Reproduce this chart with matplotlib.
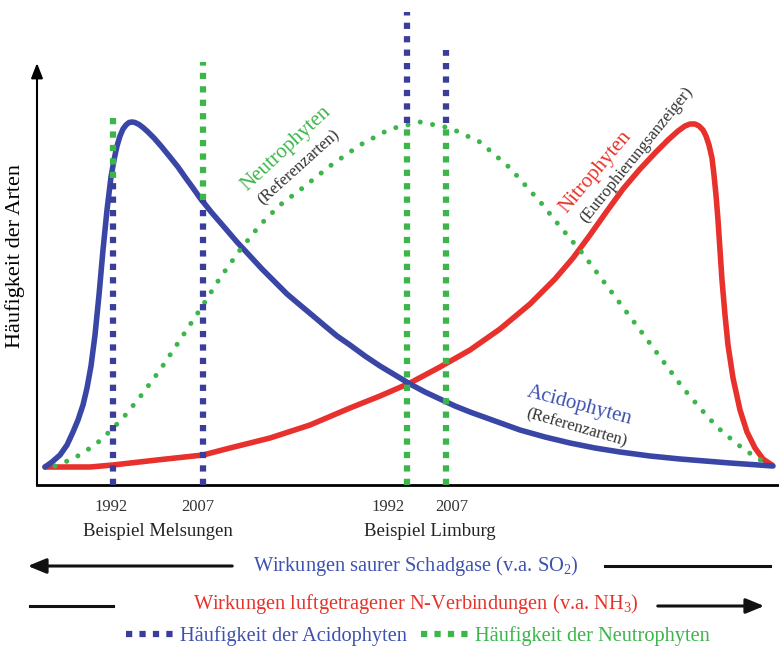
import matplotlib
matplotlib.use('Agg')
import matplotlib.pyplot as plt
from matplotlib.lines import Line2D
from matplotlib.patches import FancyArrowPatch

plt.rcParams['font.family'] = ['Liberation Serif', 'DejaVu Serif']
plt.rcParams['mathtext.fontset'] = 'custom'
plt.rcParams['mathtext.rm'] = 'Liberation Serif'
plt.rcParams['mathtext.it'] = 'Liberation Serif:italic'

BLUE = '#3a46a6'
RED = '#e8302c'
GREEN = '#3cb54a'
SQ_BLUE = '#3b3d9a'
TXT_BLUE = '#3d52ae'
TXT_RED = '#e6332a'
GREY = '#333333'

# gradient position (acid -> nitrogen) and species frequency
acido_x = [8, 15, 23, 30, 36, 41, 46, 50, 54, 58, 62, 66, 70, 74, 77, 80, 83, 86, 89, 92, 95,
           98, 102, 106, 111, 117, 124, 133, 141, 148, 156, 163, 175, 188, 200, 213, 225,
           238, 250, 263, 275, 288, 300, 313, 328, 343, 358, 373, 388, 403, 418, 433, 458,
           483, 508, 533, 558, 583, 613, 643, 668, 693, 736]
acido_y = [18, 23, 30, 40, 53, 65, 80, 97, 119, 150, 190, 235, 275, 308, 325, 339, 349, 356,
           360, 362.5, 363, 362.5, 360.5, 357.5, 353, 347, 339, 328, 318, 308, 297, 287, 272,
           257, 243, 229, 216, 203, 191, 180, 170, 159, 149, 140, 129, 119, 110, 101, 93, 86,
           79, 73, 64, 55, 48, 42, 37, 33, 29, 26, 24, 22, 19]

nitro_x = [8, 53, 76, 120, 166, 193, 233, 273, 313, 343, 373, 403, 433, 463, 493, 518, 536,
           553, 570, 586, 603, 619, 631, 641, 648, 653, 658, 662, 666, 669, 672, 675, 677,
           679, 681, 683, 685, 688, 691, 696, 703, 710, 718, 726, 735]
nitro_y = [18, 18, 20, 25, 30, 37, 47, 60, 77, 89, 102, 118, 135, 156, 181, 206, 227, 250,
           274, 296, 316, 333, 345, 354, 359, 361, 361, 359, 355, 349, 340, 327, 310, 290,
           265, 235, 205, 170, 140, 107, 75, 53, 37, 26, 20]

neutro_x = [18, 25, 36, 47, 58, 68, 86, 103, 123, 143, 166, 183, 203, 223, 243, 263, 293,
            323, 353, 383, 413, 443, 473, 505, 521, 546, 573, 603, 623, 646, 663, 680, 700,
            721, 731]
neutro_y = [19, 22, 26, 33, 40, 49, 67, 88, 115, 145, 180, 207, 235, 260, 280, 295, 319, 340,
            356, 363, 357, 343, 317, 281, 261, 231, 195, 155, 128, 97, 77, 58, 41, 26, 22]

# survey columns: Melsungen 1992/2007, Limburg 1992/2007
survey_x = [76, 166, 370, 409]
survey_years = ['1992', '2007', '1992', '2007']
acido_lo = [0, 0, 362, 362]
acido_hi = [307, 285, 473, 435]
neutro_lo = [307, 285, 0, 0]
neutro_hi = [372, 423, 362, 362]

W, H = 779, 650
fig = plt.figure(figsize=(W / 100, H / 100), dpi=100, facecolor='white')
ax = fig.add_axes([37 / W, 1 - 485 / H, 742 / W, 485 / H])
ax.set_xlim(0, 742)
ax.set_ylim(0, 485)
for s in ['top', 'right', 'left']:
    ax.spines[s].set_visible(False)
ax.spines['bottom'].set_linewidth(2)
ax.set_xticks([])
ax.set_yticks([])
ax.patch.set_alpha(0)

# y axis with arrow head
ax.annotate('', xy=(0, 422), xytext=(0, 0),
            arrowprops=dict(arrowstyle='-|>,head_length=0.9,head_width=0.35',
                            color='black', lw=1.5, shrinkA=0, shrinkB=0))

ax.plot(nitro_x, nitro_y, color=RED, lw=4, solid_capstyle='round',
        solid_joinstyle='round', zorder=2)
ax.plot(acido_x, acido_y, color=BLUE, lw=4, solid_capstyle='round',
        solid_joinstyle='round', zorder=2.2)
ax.plot(neutro_x, neutro_y, color=GREEN, lw=3.6, linestyle=(0, (0.01, 2.5)),
        dash_capstyle='round', zorder=2.5)

sq = (0, (1, 1.15))
for x, a0, a1, n0, n1 in zip(survey_x, acido_lo, acido_hi, neutro_lo, neutro_hi):
    ax.plot([x, x], [a0, a1], color=SQ_BLUE, lw=4.5, linestyle=sq,
            dash_capstyle='butt', zorder=3)
    ax.plot([x, x], [n0, n1], color=GREEN, lw=4.5, linestyle=sq,
            dash_capstyle='butt', zorder=3)

# curve labels
ax.text(249, 336, 'Neutrophyten', color=GREEN, fontsize=15, rotation=43,
        ha='center', va='center', rotation_mode='anchor')
ax.text(262, 318, '(Referenzarten)', color=GREY, fontsize=12, rotation=42,
        ha='center', va='center', rotation_mode='anchor')
ax.text(559, 313, 'Nitrophyten', color=TXT_RED, fontsize=15, rotation=50,
        ha='center', va='center', rotation_mode='anchor')
ax.text(600, 330, '(Eutrophierungsanzeiger)', color=GREY, fontsize=12, rotation=51,
        ha='center', va='center', rotation_mode='anchor')
ax.text(542, 79, 'Acidophyten', color=TXT_BLUE, fontsize=15, rotation=-15,
        ha='center', va='center', rotation_mode='anchor')
ax.text(539, 57, '(Referenzarten)', color=GREY, fontsize=12, rotation=-16,
        ha='center', va='center', rotation_mode='anchor')

fig.text(15 / W, 1 - 256 / H, 'Häufigkeit der Arten', rotation=90, fontsize=16,
         ha='center', va='center', color='black')

# year labels under the survey columns
year_dx = [-2, -5, -19, 6]
for x, yr, dx in zip(survey_x, survey_years, year_dx):
    ax.annotate(yr, xy=(x + dx, 0), xytext=(0, -22), textcoords='offset pixels',
                ha='center', va='center', fontsize=12, color=GREY,
                annotation_clip=False)
fig.text(158 / W, 1 - 531 / H, 'Beispiel Melsungen', fontsize=13.5, ha='center',
         va='center', color='#222222')
fig.text(430 / W, 1 - 531 / H, 'Beispiel Limburg', fontsize=13.5, ha='center',
         va='center', color='#222222')

# gradient arrows
fig.text(416 / W, 1 - 566 / H, 'Wirkungen saurer Schadgase (v.a. SO$_2$)', fontsize=14.7,
         ha='center', va='center', color=TXT_BLUE)
fig.text(416 / W, 1 - 604 / H, 'Wirkungen luftgetragener N-Verbindungen (v.a. NH$_3$)',
         fontsize=14.7, ha='center', va='center', color=TXT_RED)
head = '-|>,head_length=1.1,head_width=0.45'
fig.add_artist(FancyArrowPatch((235 / W, 1 - 566 / H), (25 / W, 1 - 566 / H),
                               transform=fig.transFigure, arrowstyle=head,
                               color='#111111', lw=2.2, mutation_scale=10))
fig.add_artist(Line2D([605 / W, 770 / W], [1 - 566 / H, 1 - 566 / H], color='#111111',
                      lw=2.2, transform=fig.transFigure))
fig.add_artist(Line2D([30 / W, 113 / W], [1 - 606 / H, 1 - 606 / H], color='#111111',
                      lw=2.2, transform=fig.transFigure))
fig.add_artist(FancyArrowPatch((655 / W, 1 - 606 / H), (767 / W, 1 - 606 / H),
                               transform=fig.transFigure, arrowstyle=head,
                               color='#111111', lw=2.2, mutation_scale=10))

# legend
handles = [Line2D([], [], color=SQ_BLUE, lw=4.5, linestyle=sq, dash_capstyle='butt'),
           Line2D([], [], color=GREEN, lw=4.5, linestyle=sq, dash_capstyle='butt')]
fig.legend(handles, ['Häufigkeit der Acidophyten', 'Häufigkeit der Neutrophyten'],
           loc='center', bbox_to_anchor=(418 / W, 1 - 636 / H), ncol=2, frameon=False,
           fontsize=14.7, handlelength=2.35, handletextpad=0.3, columnspacing=0.7,
           labelcolor=[TXT_BLUE, GREEN])

fig.savefig('out.png', dpi=100, facecolor='white')
